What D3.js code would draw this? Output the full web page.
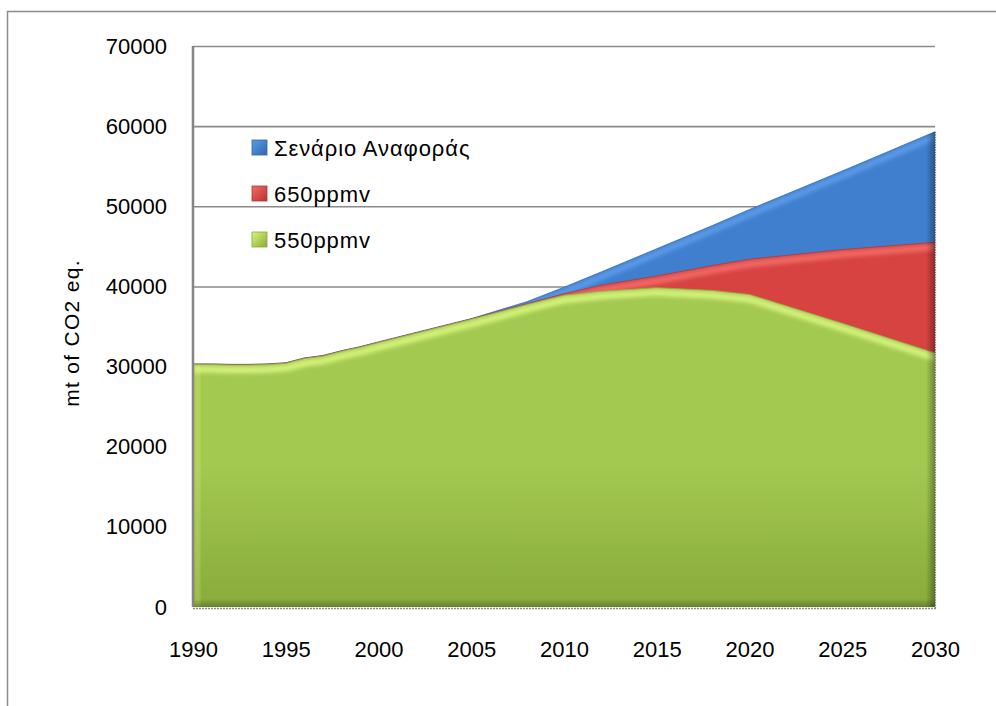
<!DOCTYPE html>
<html>
<head>
<meta charset="utf-8">
<script src="https://cdn.jsdelivr.net/npm/d3@7/dist/d3.min.js"></script>
<style>
  html, body { margin: 0; padding: 0; background: #fff; }
  svg { display: block; }
  text { font-family: "Liberation Sans", Arial, sans-serif; fill: #000; }
</style>
</head>
<body>
<svg id="chart" width="996" height="706"></svg>
<script>
// Emission pathways, mt of CO2 eq.
const years = [1990, 1991, 1992, 1993, 1994, 1995, 1996, 1997, 1998, 1999, 2000,
               2005, 2008, 2010, 2012, 2015, 2018, 2020, 2025, 2030];
const reference = [30330, 30330, 30280, 30280, 30330, 30480, 31080, 31380, 31980, 32480, 33080,
                   35980, 38100, 39900, 41800, 44700, 47600, 49600, 54400, 59300];
const ppmv650 = [30300, 30300, 30250, 30250, 30300, 30450, 31050, 31350, 31950, 32450, 33050,
                 35950, 37850, 39100, 40150, 41300, 42600, 43400, 44600, 45500];
const ppmv550 = [30250, 30250, 30200, 30200, 30250, 30400, 31000, 31300, 31900, 32400, 33000,
                 35900, 37750, 38900, 39400, 39850, 39500, 39000, 35400, 31700];
const seriesNames = ["Σενάριο Αναφοράς", "650ppmv", "550ppmv"];
const yTicks = [0, 10000, 20000, 30000, 40000, 50000, 60000, 70000];
const xTicks = [1990, 1995, 2000, 2005, 2010, 2015, 2020, 2025, 2030];
const yTitle = "mt of CO2 eq.";

const svg = d3.select("#chart");
const plotLeft = 193, plotRight = 935, plotTop = 46, plotBottom = 607;
const x = d3.scaleLinear().domain([1990, 2030]).range([plotLeft, plotRight]);
const y = d3.scaleLinear().domain([0, 70000]).range([plotBottom, plotTop]);

const series = [
  { name: seriesNames[0], values: reference, base: "#3f7fcd", light: "#5c9be8", dark: "#2f68b0", edge: "#3a6fb5" },
  { name: seriesNames[1], values: ppmv650,   base: "#d64341", light: "#f26b67", dark: "#b83230", edge: "#b03a38" },
  { name: seriesNames[2], values: ppmv550,   base: "#a4c951", light: "#d8f57e", dark: "#88ab3a", edge: "#8fb045" }
];

const defs = svg.append("defs");
const blur = defs.append("filter").attr("id", "soft").attr("x", "-5%").attr("y", "-50%").attr("width", "110%").attr("height", "200%");
blur.append("feGaussianBlur").attr("stdDeviation", 2.2);

// outer frame
svg.append("rect").attr("x", 7.5).attr("y", 11.5).attr("width", 1100).attr("height", 900)
  .attr("fill", "none").attr("stroke", "#8c8c8c").attr("stroke-width", 1.5);

// gridlines
svg.append("g")
  .attr("transform", `translate(${plotLeft},0)`)
  .call(d3.axisLeft(y).tickValues(yTicks.filter(v => v > 0)).tickSize(-(plotRight - plotLeft)).tickFormat(""))
  .call(g => g.select(".domain").remove())
  .call(g => g.selectAll("line").attr("stroke", "#8a8a8a").attr("stroke-width", 1.6));

const area = d3.area().x((d, i) => x(years[i])).y0(y(0)).y1(d => y(d));
const line = d3.line().x((d, i) => x(years[i])).y(d => y(d));

series.forEach((s, k) => {
  const gid = "grad" + k;
  const grad = defs.append("linearGradient").attr("id", gid)
    .attr("gradientUnits", "userSpaceOnUse")
    .attr("x1", 0).attr("y1", y(d3.max(s.values))).attr("x2", 0).attr("y2", plotBottom);
  grad.append("stop").attr("offset", 0).attr("stop-color", s.base);
  grad.append("stop").attr("offset", 0.55).attr("stop-color", s.base);
  grad.append("stop").attr("offset", 1).attr("stop-color", s.dark);

  const cid = "clip" + k;
  defs.append("clipPath").attr("id", cid).append("path").attr("d", area(s.values));

  const g = svg.append("g");
  g.append("path").attr("d", area(s.values)).attr("fill", `url(#${gid})`);
  // bevel highlight just under the top edge
  g.append("g").attr("clip-path", `url(#${cid})`)
    .append("path").attr("d", line(s.values))
    .attr("transform", "translate(0,5)")
    .attr("fill", "none").attr("stroke", s.light).attr("stroke-width", 6)
    .attr("filter", "url(#soft)");
  // left edge highlight
  g.append("g").attr("clip-path", `url(#${cid})`)
    .append("rect").attr("x", plotLeft + 2).attr("y", plotTop).attr("width", 5).attr("height", plotBottom - plotTop)
    .attr("fill", s.light).attr("opacity", 0.35).attr("filter", "url(#soft)");
  // thin edge along the top
  g.append("path").attr("d", line(s.values))
    .attr("fill", "none").attr("stroke", s.edge).attr("stroke-width", 1).attr("opacity", 0.8);
});

// shading along the right and bottom edges of the filled region
const shade = defs.append("linearGradient").attr("id", "rshade").attr("x1", 0).attr("x2", 1).attr("y1", 0).attr("y2", 0);
shade.append("stop").attr("offset", 0).attr("stop-color", "#000").attr("stop-opacity", 0);
shade.append("stop").attr("offset", 1).attr("stop-color", "#000").attr("stop-opacity", 0.35);
const bshade = defs.append("linearGradient").attr("id", "bshade").attr("x1", 0).attr("x2", 0).attr("y1", 0).attr("y2", 1);
bshade.append("stop").attr("offset", 0).attr("stop-color", "#000").attr("stop-opacity", 0);
bshade.append("stop").attr("offset", 1).attr("stop-color", "#000").attr("stop-opacity", 0.25);
const shadeG = svg.append("g").attr("clip-path", "url(#clip0)");
shadeG.append("rect").attr("x", plotRight - 9).attr("y", plotTop).attr("width", 9).attr("height", plotBottom - plotTop).attr("fill", "url(#rshade)");
shadeG.append("rect").attr("x", plotLeft).attr("y", plotBottom - 8).attr("width", plotRight - plotLeft).attr("height", 8).attr("fill", "url(#bshade)");

// dotted outline on the right and bottom
svg.append("line").attr("x1", plotRight + 0.5).attr("x2", plotRight + 0.5).attr("y1", y(d3.max(reference))).attr("y2", plotBottom + 1)
  .attr("stroke", "#777").attr("stroke-width", 1.2).attr("stroke-dasharray", "1.5,1");
svg.append("line").attr("x1", plotLeft).attr("x2", plotRight + 1).attr("y1", plotBottom + 1.5).attr("y2", plotBottom + 1.5)
  .attr("stroke", "#888").attr("stroke-width", 1.5).attr("stroke-dasharray", "2,1");

// left axis line
svg.append("line").attr("x1", plotLeft).attr("x2", plotLeft).attr("y1", plotTop).attr("y2", plotBottom)
  .attr("stroke", "#858585").attr("stroke-width", 2.5);

// y tick labels
svg.append("g")
  .attr("transform", `translate(${plotLeft},0)`)
  .call(d3.axisLeft(y).tickValues(yTicks).tickSize(0).tickPadding(26).tickFormat(d3.format("d")))
  .call(g => g.select(".domain").remove())
  .call(g => g.selectAll("text").attr("font-size", 22).attr("font-family", "Liberation Sans, Arial, sans-serif").attr("fill", "#000"));

// x tick labels
svg.append("g")
  .attr("transform", `translate(0,${plotBottom})`)
  .call(d3.axisBottom(x).tickValues(xTicks).tickSize(0).tickPadding(34).tickFormat(d3.format("d")))
  .call(g => g.select(".domain").remove())
  .call(g => g.selectAll("text").attr("font-size", 22).attr("font-family", "Liberation Sans, Arial, sans-serif").attr("fill", "#000"));

// axis title
svg.append("text")
  .attr("transform", "translate(79,333) rotate(-90)")
  .attr("text-anchor", "middle")
  .attr("font-size", 21)
  .attr("letter-spacing", 1.3)
  .text(yTitle);

// legend
const legend = svg.append("g");
series.forEach((s, k) => {
  const ly = 148 + k * 46;
  const lg = defs.append("linearGradient").attr("id", "lg" + k).attr("x1", 0).attr("x2", 1).attr("y1", 0).attr("y2", 1);
  lg.append("stop").attr("offset", 0).attr("stop-color", s.light);
  lg.append("stop").attr("offset", 1).attr("stop-color", s.dark);
  legend.append("rect").attr("x", 252).attr("y", ly - 8).attr("width", 15).attr("height", 15)
    .attr("fill", `url(#lg${k})`).attr("stroke", s.dark).attr("stroke-width", 0.8);
  legend.append("text").attr("x", 274).attr("y", ly + 8).attr("font-size", 22)
    .attr("letter-spacing", 0.9).text(s.name);
});
</script>
</body>
</html>
